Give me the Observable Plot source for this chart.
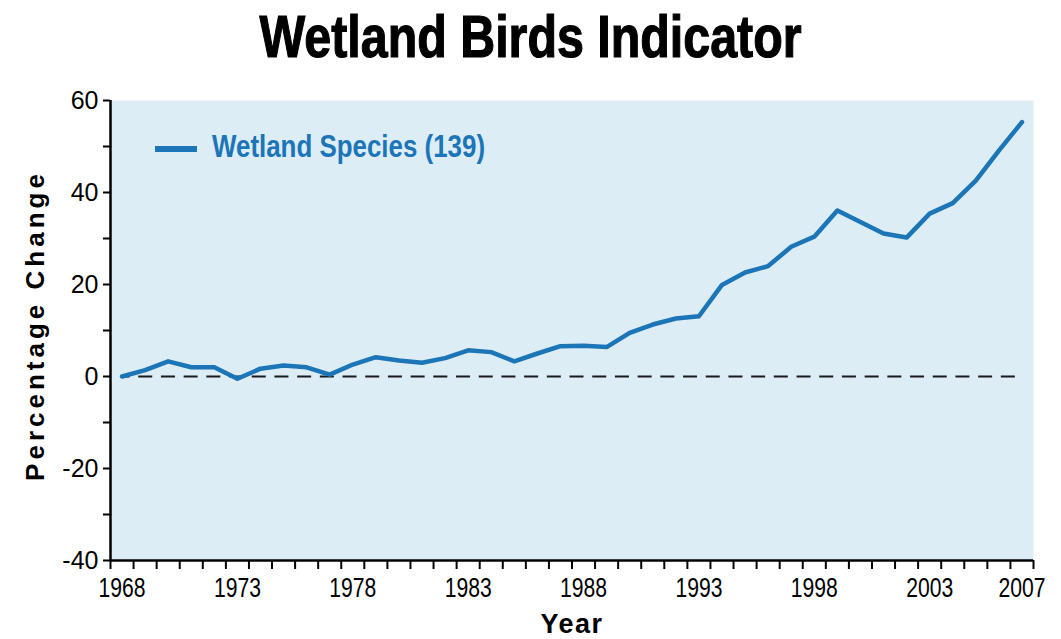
<!DOCTYPE html>
<html>
<head>
<meta charset="utf-8">
<script src="https://cdn.jsdelivr.net/npm/d3@7"></script>
<script src="https://cdn.jsdelivr.net/npm/@observablehq/plot@0.6"></script>
<style>
  html, body { margin: 0; padding: 0; background: #ffffff; }
  body { width: 1061px; height: 639px; overflow: hidden; }
  #title {
    box-sizing: border-box; height: 80px; padding-top: 8px;
    text-align: center; color: #000;
    font-family: "Liberation Sans", Arial, sans-serif;
    font-weight: bold; font-size: 59px; line-height: 59px; white-space: nowrap;
  }
  #title span {
    display: inline-block; transform-origin: 50% 50%;
    -webkit-text-stroke: 1.2px #000;
  }
  #chart svg { display: block; }
</style>
</head>
<body>
<div id="title"><span>Wetland Birds Indicator</span></div>
<div id="chart"></div>
<script>
// ---- data ----
const years = [1968, 1969, 1970, 1971, 1972, 1973, 1974, 1975, 1976, 1977,
               1978, 1979, 1980, 1981, 1982, 1983, 1984, 1985, 1986, 1987,
               1988, 1989, 1990, 1991, 1992, 1993, 1994, 1995, 1996, 1997,
               1998, 1999, 2000, 2001, 2002, 2003, 2004, 2005, 2006, 2007];
const wetland = [0, 1.4, 3.3, 2.0, 2.0, -0.5, 1.7, 2.4, 2.0, 0.4,
                 2.6, 4.2, 3.5, 3.0, 4.0, 5.7, 5.3, 3.3, 5.0, 6.6,
                 6.7, 6.4, 9.5, 11.3, 12.6, 13.1, 19.9, 22.6, 24.0, 28.2,
                 30.4, 36.1, 33.6, 31.1, 30.2, 35.4, 37.7, 42.6, 49.1, 55.3];
const seriesName = "Wetland Species (139)";
const xTickLabels = [1968, 1973, 1978, 1983, 1988, 1993, 1998, 2003, 2007];
const yTicks = [-40, -30, -20, -10, 0, 10, 20, 30, 40, 50, 60];
const yTickLabels = [-40, -20, 0, 20, 40, 60];
const yDomain = [-40, 60];
const xLabel = "Year";
const yLabel = "Percentage Change";

// ---- styling / layout ----
const blue = "#1b75b6";
const bg = "#ddedf6";
const W = 1061, H = 559;
const mL = 110, mR = 28, mT = 20, mB = 79;
const sans = "'Liberation Sans', Arial, sans-serif";

// squeeze the title to the reference's condensed width
const titleSpan = document.querySelector("#title span");
const tw = titleSpan.getBoundingClientRect().width;
titleSpan.style.transform = `scaleX(${542 / tw})`;

const data = years.map((yr, i) => ({year: yr, value: wetland[i]}));
// year bands: tick marks sit on band edges, points on band centres
const edges = years.map(y => y - 0.5).concat([years[years.length - 1] + 0.5]);

const legend = () => {
  const g = d3.create("svg:g");
  g.append("line").attr("x1", mL + 45).attr("x2", mL + 87).attr("y1", mT + 49).attr("y2", mT + 49)
    .attr("stroke", blue).attr("stroke-width", 6).attr("stroke-linecap", "butt");
  g.append("text").attr("x", mL + 102).attr("y", mT + 57).attr("fill", blue)
    .attr("text-anchor", "start")
    .attr("font-family", sans).attr("font-weight", "bold").attr("font-size", 32)
    .attr("textLength", 273).attr("lengthAdjust", "spacingAndGlyphs")
    .text(seriesName);
  return g.node();
};

const chart = Plot.plot({
  width: W, height: H,
  marginLeft: mL, marginRight: mR, marginTop: mT, marginBottom: mB,
  style: {fontFamily: sans, background: "transparent", overflow: "visible"},
  x: {domain: [edges[0], edges[edges.length - 1]]},
  y: {domain: yDomain},
  marks: [
    Plot.frame({fill: bg, stroke: null}),
    Plot.ruleY([0], {x1: years[0], x2: years[years.length - 1], stroke: "#1a1a1a",
                     strokeWidth: 2, strokeDasharray: "14,8.7", strokeDashoffset: 6}),
    Plot.line(data, {x: "year", y: "value", stroke: blue, strokeWidth: 4.5,
                     strokeLinejoin: "round", strokeLinecap: "round"}),
    Plot.ruleX([edges[0]], {stroke: "#000", strokeWidth: 2.5}),
    Plot.ruleY([yDomain[0]], {stroke: "#000", strokeWidth: 2.5}),
    Plot.axisY(yTicks, {anchor: "left", tickSize: 7, tickPadding: 5, strokeWidth: 2,
                        tickFormat: d => yTickLabels.includes(d) ? String(d) : "",
                        fontSize: 25, fontFamily: sans, fill: "#000", label: null}),
    Plot.axisX(edges, {anchor: "bottom", tickSize: 9, strokeWidth: 2,
                       tickFormat: () => "", label: null}),
    Plot.axisX(xTickLabels, {anchor: "bottom", tickSize: 0, tickPadding: 17,
                             tickFormat: d => String(d), fontSize: 28, fontFamily: sans,
                             fill: "#000", label: null}),
    Plot.text([yLabel], {frameAnchor: "left", textAnchor: "middle", rotate: -90, dx: -75, dy: -5,
                         text: d => d, fontSize: 26, fontWeight: "bold", fontFamily: sans, fill: "#000"}),
    Plot.text([xLabel], {frameAnchor: "bottom", textAnchor: "middle", lineAnchor: "bottom", dy: 72,
                         text: d => d, fontSize: 27, fontWeight: "bold", fontFamily: sans, fill: "#000"}),
    legend
  ]
});

const texts = d3.select(chart).selectAll("text");
texts.filter(function () { return this.textContent === yLabel; })
  .attr("letter-spacing", 4);
texts.filter(function () { return this.textContent === xLabel; })
  .attr("letter-spacing", 1.5);
// condensed year labels like the reference
texts.filter(function () { return xTickLabels.map(String).includes(this.textContent); })
  .attr("textLength", 47).attr("lengthAdjust", "spacingAndGlyphs");

document.getElementById("chart").appendChild(chart);
</script>
</body>
</html>
